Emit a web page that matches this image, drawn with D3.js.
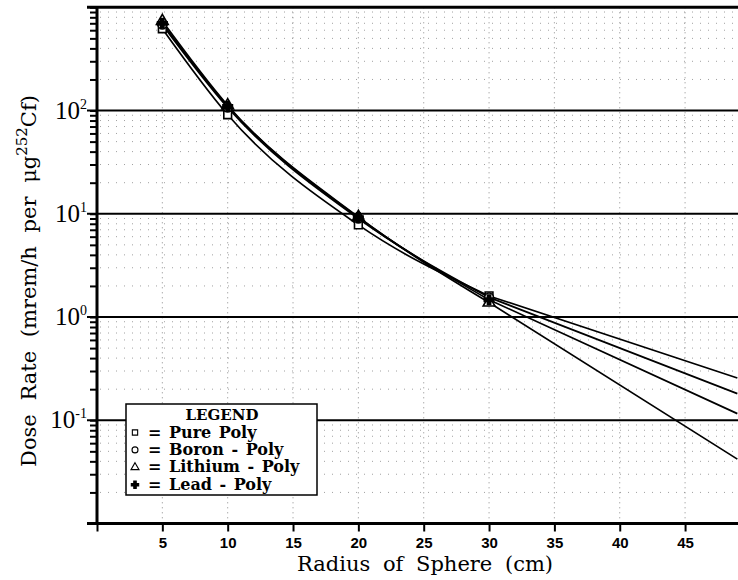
<!DOCTYPE html>
<html>
<head>
<meta charset="utf-8">
<script src="https://cdn.jsdelivr.net/npm/d3@7"></script>
<style>
  body { margin: 0; background: #fff; }
  svg { display: block; }
</style>
</head>
<body>
<div id="chart"></div>
<script>
// Radius of sphere (cm); last entry is where the drawn lines leave the frame
var radius = [5, 10, 20, 30, 49];
var measuredCount = 4;

// Dose rate (mrem/h per ug 252Cf)
var purePoly    = [620, 91, 7.8, 1.60, 0.257];
var boronPoly   = [680, 107, 9.0, 1.55, 0.181];
var lithiumPoly = [735, 112, 9.3, 1.38, 0.042];
var leadPoly    = [700, 110, 9.2, 1.47, 0.116];

var seriesNames = ["Pure Poly", "Boron - Poly", "Lithium - Poly", "Lead - Poly"];
var seriesSymbols = ["square", "circle", "triangle", "plus"];
var seriesValues = [purePoly, boronPoly, lithiumPoly, leadPoly];

var xTicks = [5, 10, 15, 20, 25, 30, 35, 40, 45];
var yDecades = [0.01, 0.1, 1, 10, 100, 1000];
var yTickLabels = [["10", "-1"], ["10", "0"], ["10", "1"], ["10", "2"]];
var yTickValues = [0.1, 1, 10, 100];

var svgWidth = 738, svgHeight = 580;

var svg = d3.select("#chart").append("svg")
  .attr("width", svgWidth)
  .attr("height", svgHeight);

var x = d3.scaleLinear().domain([0, 49.05]).range([97, 738]);
var y = d3.scaleLog().domain([0.01, 1000]).range([523.5, 7.3]);

var serif = "'DejaVu Serif', serif";

// minor dotted grid (2..9 in each decade)
var minorVals = [];
yDecades.slice(0, 5).forEach(function(d) {
  for (var k = 2; k <= 9; k++) minorVals.push(d * k);
});
svg.append("g").selectAll("line")
  .data(minorVals)
  .enter().append("line")
  .attr("x1", x(0) + 3).attr("x2", 738)
  .attr("y1", function(d) { return y(d); })
  .attr("y2", function(d) { return y(d); })
  .attr("stroke", "#a0a0a0")
  .attr("stroke-width", 1)
  .attr("stroke-dasharray", "1,7");

// vertical dotted grid
svg.append("g").selectAll("line")
  .data(xTicks)
  .enter().append("line")
  .attr("x1", function(d) { return x(d); })
  .attr("x2", function(d) { return x(d); })
  .attr("y1", y(1000)).attr("y2", y(0.01))
  .attr("stroke", "#8a8a8a")
  .attr("stroke-width", 1)
  .attr("stroke-dasharray", "1,4");

// decade lines
svg.append("g").selectAll("line")
  .data(yDecades.slice(1))
  .enter().append("line")
  .attr("x1", 87).attr("x2", 738)
  .attr("y1", function(d) { return y(d); })
  .attr("y2", function(d) { return y(d); })
  .attr("stroke", "#000")
  .attr("stroke-width", function(d) { return d == 1000 ? 3 : 2; });

// y axis with log minor ticks on the outside
var leftAxis = d3.axisLeft(y)
  .tickValues(minorVals.concat(yDecades))
  .tickSize(7)
  .tickFormat("");
var gy = svg.append("g")
  .attr("transform", "translate(" + x(0) + ",0)")
  .call(leftAxis);
gy.select(".domain").attr("stroke-width", 3).attr("d", "M0," + y(1000) + "V" + (y(0.01) + 1));
gy.selectAll(".tick line").attr("stroke-width", 2);

// y tick labels with exponents
var yLab = svg.append("g").selectAll("text")
  .data(yTickValues)
  .enter().append("text")
  .attr("x", 87)
  .attr("y", function(d) { return y(d) + 8; })
  .attr("text-anchor", "end")
  .style("font-family", "'Liberation Serif', serif")
  .style("font-size", "25px");
yLab.append("tspan").text(function(d, i) { return yTickLabels[i][0]; });
yLab.append("tspan")
  .attr("dy", -10)
  .style("font-size", "14px")
  .text(function(d, i) { return yTickLabels[i][1]; });

// x axis
var bottomAxis = d3.axisBottom(x)
  .tickValues([0].concat(xTicks))
  .tickSize(8)
  .tickFormat(function(d) { return d == 0 ? "" : d; });
var gx = svg.append("g")
  .attr("transform", "translate(0," + y(0.01) + ")")
  .call(bottomAxis);
gx.select(".domain").attr("stroke-width", 3).attr("d", "M87,0H738");
gx.selectAll(".tick line").attr("stroke-width", 2);
gx.selectAll(".tick text")
  .attr("y", 14)
  .style("font-family", "'Liberation Sans', sans-serif")
  .style("font-weight", "bold")
  .style("font-size", "15px")
  .style("fill", "#000");

// axis titles
svg.append("text")
  .attr("x", 425)
  .attr("y", 571)
  .attr("text-anchor", "middle")
  .style("font-family", serif)
  .style("font-size", "21px")
  .style("word-spacing", "6px")
  .text("Radius of Sphere (cm)");

var yTitle = svg.append("text")
  .attr("transform", "translate(36,281) rotate(-90)")
  .attr("text-anchor", "middle")
  .style("font-family", serif)
  .style("font-size", "21px")
  .style("word-spacing", "7px");
yTitle.append("tspan").text("Dose Rate (mrem/h per \u03bcg");
yTitle.append("tspan").attr("dy", -9).style("font-size", "15px").text("252");
yTitle.append("tspan").attr("dy", 9).text("Cf)");

// curves: smooth through the measured points, straight beyond the last one
var line = d3.line()
  .x(function(d) { return x(d[0]); })
  .y(function(d) { return y(d[1]); })
  .curve(d3.curveMonotoneX);

var plot = svg.append("g");
plot.append("clipPath").attr("id", "clip")
  .append("rect").attr("x", x(0)).attr("y", 0).attr("width", 738 - x(0)).attr("height", y(0.01));

plot.selectAll("path.series")
  .data(seriesValues)
  .enter().append("path")
  .attr("class", "series")
  .attr("clip-path", "url(#clip)")
  .attr("d", function(vals) {
    var pts = radius.map(function(r, i) { return [r, vals[i]]; });
    var last = pts[pts.length - 1];
    return line(pts.slice(0, measuredCount)) + "L" + x(last[0]) + "," + y(last[1]);
  })
  .attr("fill", "none")
  .attr("stroke", "#000")
  .attr("stroke-width", 1.7);

var symbolTypes = {
  square: d3.symbolSquare,
  circle: d3.symbolCircle,
  triangle: d3.symbolTriangle,
  plus: d3.symbolCross
};

seriesValues.forEach(function(vals, s) {
  var sym = seriesSymbols[s];
  plot.selectAll("path.m" + s)
    .data(radius.slice(0, measuredCount))
    .enter().append("path")
    .attr("class", "m" + s)
    .attr("transform", function(r, i) { return "translate(" + x(r) + "," + y(vals[i]) + ")"; })
    .attr("d", d3.symbol().type(symbolTypes[sym]).size(sym == "plus" ? 50 : 60))
    .attr("fill", sym == "plus" ? "#000" : "#fff")
    .attr("stroke", "#000")
    .attr("stroke-width", 1.6);
});

// legend
var legend = svg.append("g");
legend.append("rect")
  .attr("x", 126).attr("y", 404)
  .attr("width", 191).attr("height", 91)
  .attr("fill", "#fff")
  .attr("stroke", "#000")
  .attr("stroke-width", 1.5);
legend.append("text")
  .attr("x", 222).attr("y", 420)
  .attr("text-anchor", "middle")
  .style("font-family", serif)
  .style("font-size", "15px")
  .style("font-weight", "bold")
  .text("LEGEND");

seriesNames.forEach(function(name, i) {
  var ly = 437.5 + i * 17.4;
  var sym = seriesSymbols[i];
  legend.append("path")
    .attr("transform", "translate(135," + (ly - 5) + ")")
    .attr("d", d3.symbol().type(symbolTypes[sym]).size(sym == "plus" ? 30 : 28))
    .attr("fill", sym == "plus" ? "#000" : "#fff")
    .attr("stroke", "#000")
    .attr("stroke-width", 1.1);
  legend.append("text")
    .attr("x", 148).attr("y", ly)
    .style("font-family", serif)
    .style("font-size", "16px")
    .style("font-weight", "bold")
    .style("word-spacing", "2px")
    .text("= " + name);
});
</script>
</body>
</html>
